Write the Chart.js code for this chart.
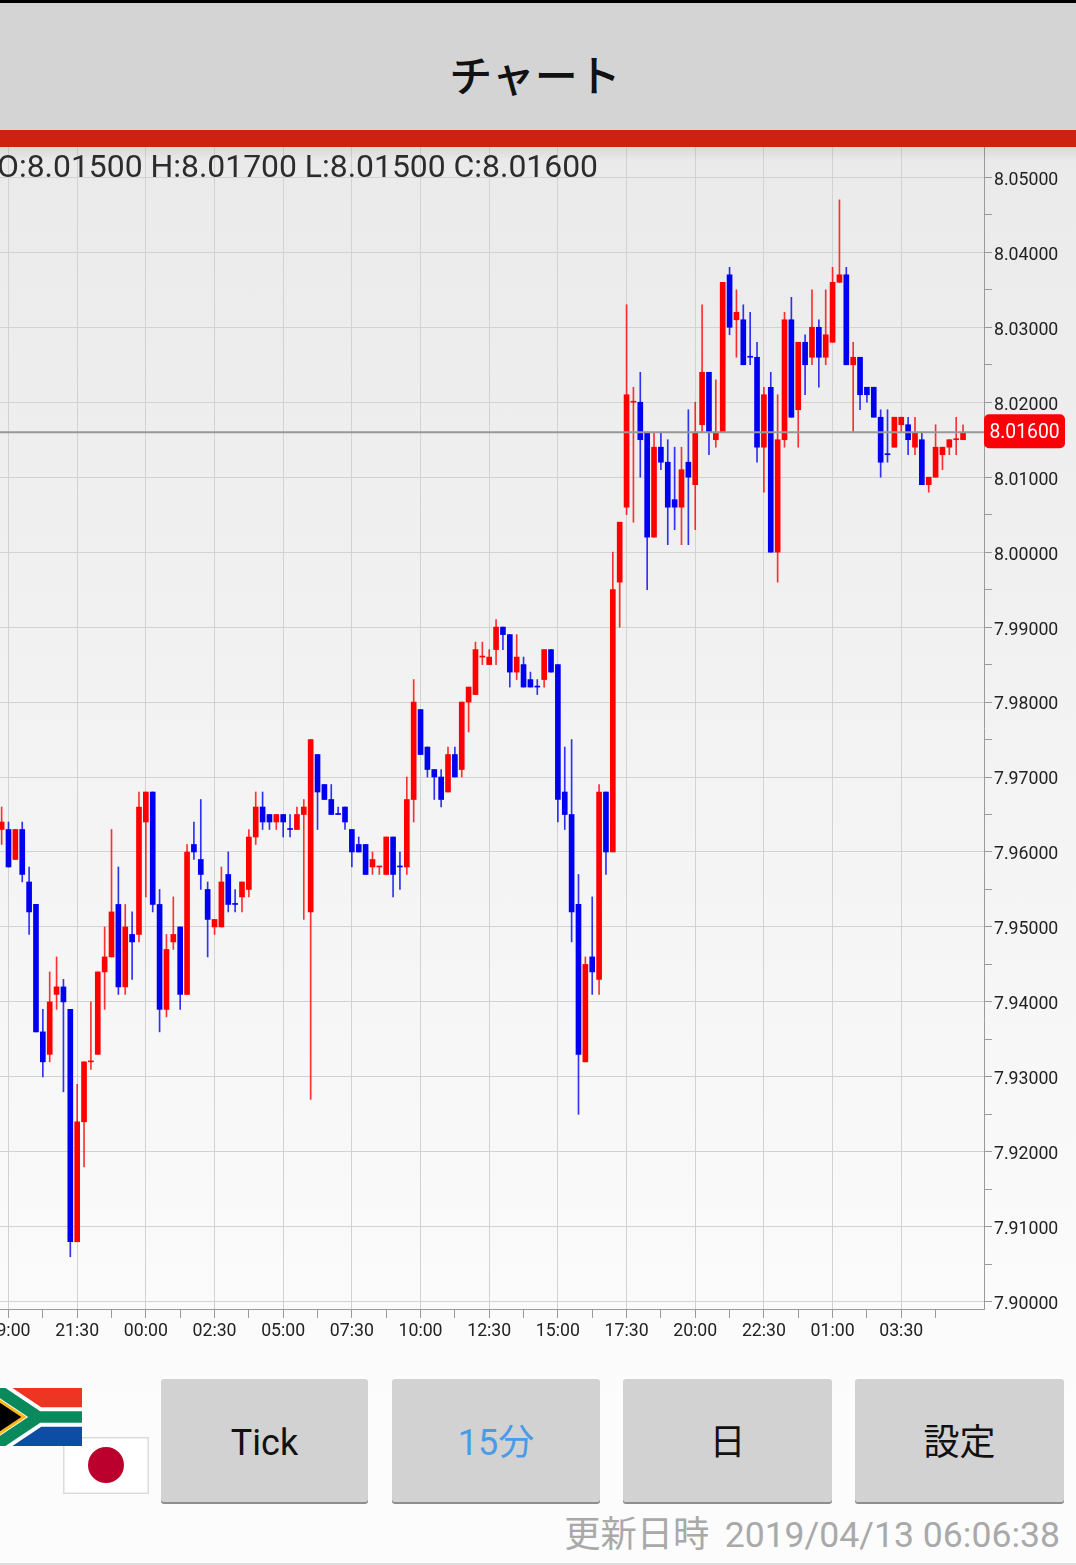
<!DOCTYPE html>
<html lang="ja"><head><meta charset="utf-8">
<style>
html,body{margin:0;padding:0}
body{width:1076px;height:1565px;position:relative;overflow:hidden;font-family:Roboto,"Noto Sans CJK JP",sans-serif;
background:linear-gradient(#eaeaea 147px,#fcfcfc 1400px)}
#status{position:absolute;left:0;top:0;width:1076px;height:3px;background:#000}
#head{position:absolute;left:-3px;top:3px;width:1076px;height:127px;text-align:center;line-height:141px;font-size:43px;font-weight:500;color:#111;font-family:"Noto Sans CJK JP",sans-serif}
#headbg{position:absolute;left:0;top:3px;width:1076px;height:127px;background:#d4d4d4}
#band{position:absolute;left:0;top:130px;width:1076px;height:17px;background:#cf2110}
#shade{position:absolute;left:0;top:147px;width:1076px;height:14px;background:linear-gradient(rgba(0,0,0,.07),rgba(0,0,0,0))}
#wrap{position:absolute;left:0;top:147px;width:1076px;height:1198px}
#ohlc{position:absolute;left:-3px;top:146px;font-size:31.9px;line-height:40px;color:#2c2c2c;white-space:nowrap}
.btn{position:absolute;top:1379px;height:123px;background:#d2d2d2;border-radius:3px;box-shadow:0 2px 0 #8e8e8e;text-align:center;line-height:128px;font-size:36px;color:#111;font-family:Roboto,"Noto Sans CJK JP",sans-serif}
#stamp{position:absolute;right:16px;top:1514px;font-size:35.6px;line-height:42px;color:#a9a9a9;white-space:nowrap;font-family:Roboto,"Noto Sans CJK JP",sans-serif}
#stamp span{font-size:36.3px;margin-right:6.5px}
#foot{position:absolute;left:0;top:1563px;width:1076px;height:2px;background:#dcdcdc}
svg{position:absolute}
</style></head><body>
<div id="status"></div>
<div id="headbg"></div>
<div id="head">チャート</div>
<div id="wrap"><canvas id="c" width="1076" height="1198"></canvas></div>
<div id="band"></div><div id="shade"></div>
<div id="ohlc">O:8.01500 H:8.01700 L:8.01500 C:8.01600</div>
<svg style="left:63px;top:1437px" width="86" height="57"><rect x=".5" y=".5" width="85" height="56" fill="#fff" stroke="#dcdcdc" stroke-width="2"/><circle cx="43" cy="28" r="18" fill="#bc002d"/></svg>
<svg style="left:-5px;top:1388px" width="87" height="58" viewBox="0 0 90 60" preserveAspectRatio="none">
<rect width="90" height="30" fill="#ee3524"/><rect y="30" width="90" height="30" fill="#0d4da5"/>
<path d="M0 0L45 30H90M45 30L0 60" fill="none" stroke="#fff" stroke-width="20"/>
<path d="M0 0L45 30H90M45 30L0 60" fill="none" stroke="#0a8a5c" stroke-width="12"/>
<path d="M0 10L30 30L0 50Z" fill="#000" stroke="#ffb81c" stroke-width="3"/></svg>
<div class="btn" style="left:161px;width:207px">Tick</div>
<div class="btn" style="left:392px;width:208px;color:#4a9be6">15分</div>
<div class="btn" style="left:623px;width:209px">日</div>
<div class="btn" style="left:855px;width:209px">設定</div>
<div id="stamp"><span>更新日時</span> 2019/04/13 06:06:38</div>
<div id="foot"></div>
<script src="https://cdn.jsdelivr.net/npm/chart.js@4/dist/chart.umd.min.js"></script>
<script>
const opens=[7.963,7.963,7.959,7.963,7.956,7.953,7.936,7.933,7.941,7.942,7.939,7.908,7.924,7.932,7.933,7.944,7.946,7.953,7.942,7.949,7.949,7.964,7.968,7.953,7.939,7.948,7.950,7.941,7.961,7.959,7.955,7.950,7.950,7.957,7.953,7.954,7.955,7.962,7.966,7.965,7.964,7.965,7.963,7.963,7.965,7.952,7.973,7.969,7.967,7.965,7.966,7.963,7.961,7.961,7.958,7.958,7.957,7.962,7.958,7.958,7.967,7.979,7.974,7.971,7.970,7.968,7.973,7.971,7.980,7.981,7.986,7.985,7.987,7.990,7.989,7.984,7.985,7.983,7.982,7.983,7.987,7.985,7.968,7.965,7.953,7.932,7.946,7.943,7.968,7.960,7.996,8.006,8.020,8.020,8.016,8.002,8.014,8.012,8.007,8.006,8.012,8.009,8.017,8.024,8.015,8.016,8.037,8.031,8.031,8.026,8.026,8.014,8.022,8.000,8.015,8.031,8.019,8.028,8.026,8.030,8.026,8.028,8.036,8.037,8.025,8.026,8.022,8.022,8.018,8.013,8.014,8.017,8.017,8.014,8.015,8.009,8.010,8.013,8.014,8.015,8.015];
const closes=[7.964,7.958,7.963,7.957,7.952,7.936,7.932,7.940,7.942,7.940,7.908,7.924,7.932,7.932,7.944,7.946,7.952,7.942,7.950,7.948,7.966,7.968,7.953,7.939,7.947,7.949,7.941,7.960,7.960,7.957,7.951,7.951,7.956,7.953,7.953,7.956,7.962,7.966,7.964,7.964,7.965,7.964,7.963,7.965,7.966,7.975,7.968,7.967,7.965,7.965,7.964,7.960,7.960,7.957,7.959,7.958,7.962,7.957,7.958,7.967,7.980,7.973,7.971,7.970,7.967,7.973,7.970,7.980,7.982,7.987,7.986,7.986,7.990,7.989,7.984,7.986,7.982,7.982,7.982,7.987,7.984,7.967,7.965,7.952,7.933,7.945,7.944,7.968,7.960,7.995,8.004,8.021,8.020,8.015,8.002,8.014,8.012,8.006,8.006,8.011,8.010,8.016,8.024,8.016,8.016,8.036,8.030,8.032,8.025,8.026,8.014,8.021,8.000,8.015,8.031,8.018,8.028,8.025,8.030,8.026,8.029,8.036,8.037,8.025,8.026,8.021,8.021,8.018,8.012,8.013,8.018,8.018,8.015,8.016,8.009,8.010,8.014,8.014,8.015,8.015,8.016];
const highs=[7.966,7.964,7.963,7.964,7.958,7.953,7.939,7.944,7.946,7.943,7.939,7.929,7.932,7.940,7.944,7.950,7.963,7.958,7.953,7.952,7.968,7.968,7.968,7.955,7.949,7.954,7.950,7.961,7.964,7.967,7.956,7.951,7.958,7.960,7.955,7.956,7.963,7.968,7.968,7.965,7.965,7.965,7.965,7.966,7.967,7.975,7.973,7.969,7.969,7.966,7.966,7.963,7.962,7.961,7.960,7.958,7.962,7.962,7.960,7.970,7.983,7.979,7.974,7.971,7.971,7.974,7.974,7.980,7.982,7.988,7.988,7.987,7.991,7.990,7.989,7.989,7.986,7.984,7.983,7.987,7.987,7.985,7.974,7.975,7.957,7.946,7.954,7.969,7.968,8.000,8.004,8.033,8.022,8.024,8.016,8.016,8.016,8.015,8.014,8.014,8.019,8.020,8.033,8.024,8.023,8.036,8.038,8.035,8.033,8.032,8.028,8.022,8.024,8.021,8.032,8.034,8.028,8.029,8.035,8.031,8.035,8.038,8.047,8.038,8.028,8.026,8.022,8.022,8.019,8.019,8.018,8.018,8.018,8.018,8.016,8.010,8.017,8.014,8.015,8.018,8.017];
const lows=[7.961,7.958,7.959,7.956,7.949,7.936,7.930,7.932,7.939,7.928,7.906,7.908,7.918,7.931,7.933,7.939,7.946,7.941,7.941,7.943,7.948,7.954,7.952,7.936,7.938,7.947,7.939,7.941,7.959,7.955,7.946,7.949,7.950,7.952,7.952,7.952,7.954,7.961,7.963,7.963,7.963,7.962,7.962,7.963,7.951,7.927,7.963,7.967,7.965,7.965,7.963,7.958,7.960,7.957,7.957,7.957,7.957,7.954,7.955,7.957,7.964,7.973,7.970,7.967,7.966,7.968,7.970,7.970,7.976,7.981,7.985,7.985,7.985,7.987,7.982,7.983,7.982,7.982,7.981,7.982,7.984,7.964,7.963,7.948,7.925,7.932,7.941,7.941,7.957,7.960,7.990,8.005,8.004,8.010,7.995,8.002,8.011,8.001,8.003,8.001,8.001,8.003,8.016,8.013,8.014,8.016,8.029,8.026,8.025,8.025,8.012,8.008,8.000,7.996,8.014,8.018,8.014,8.021,8.025,8.022,8.025,8.028,8.036,8.025,8.016,8.019,8.020,8.018,8.010,8.012,8.014,8.016,8.013,8.013,8.009,8.008,8.010,8.011,8.013,8.013,8.015];
const bearishDoji=[34,42,49,58,78,109,129];
const lastPrice=8.016;
const xTickPositions=[1,6,11,16,21,26,31,36,41,46,51,56,61,66,71,76,81,86,91,96,101,106,111,116,121,126,131,136];
const xTickLabels=['19:00','','21:30','','00:00','','02:30','','05:00','','07:30','','10:00','','12:30','','15:00','','17:30','','20:00','','22:30','','01:00','','03:30',''];
const yTickValues=[7.9,7.905,7.91,7.915,7.92,7.925,7.93,7.935,7.94,7.945,7.95,7.955,7.96,7.965,7.97,7.975,7.98,7.985,7.99,7.995,8,8.005,8.01,8.015,8.02,8.025,8.03,8.035,8.04,8.045,8.05];

const isBlue=opens.map((o,k)=>closes[k]<o||(closes[k]===o&&bearishDoji.includes(k)));
const bodyColours=isBlue.map(b=>b?'#0000f0':'#ff0000');
const wickColours=isBlue.map(b=>b?'rgba(0,0,240,.8)':'rgba(255,0,0,.8)');
const xMin=-0.238,xMax=143.05;
const FONT='Roboto';
const major=v=>Math.round(v*1000)%10===0;

const priceTag={id:'priceTag',afterDraw(ch){
  const y=ch.scales.y.getPixelForValue(lastPrice),g=ch.ctx;
  g.save();g.fillStyle='#fb0006';g.beginPath();g.roundRect(984,y-18,81,34,5);g.fill();
  g.fillStyle='#fff';g.font='19.3px '+FONT;g.textAlign='center';g.textBaseline='middle';
  g.fillText(lastPrice.toFixed(5),1024.5,y+1);g.restore();
}};

new Chart(document.getElementById('c'),{
  type:'bar',
  data:{datasets:[
    {type:'line',data:[{x:xMin,y:lastPrice},{x:xMax,y:lastPrice}],borderColor:'#979797',borderWidth:2,pointRadius:0,order:0},
    {data:opens.map((o,k)=>({x:k,y:[o,closes[k]]})),backgroundColor:bodyColours,barThickness:5,minBarLength:1,grouped:false,order:1},
    {data:lows.map((l,k)=>({x:k,y:[l,highs[k]]})),backgroundColor:wickColours,barThickness:1,grouped:false,order:2}
  ]},
  plugins:[priceTag],
  options:{
    responsive:false,animation:false,
    layout:{padding:0},
    plugins:{legend:{display:false},tooltip:{enabled:false},title:{display:false}},
    scales:{
      x:{type:'linear',min:xMin,max:xMax,offset:false,
        afterBuildTicks:s=>{s.ticks=xTickPositions.map(v=>({value:v}))},
        afterFit:s=>{s.height=36;s.paddingLeft=0;s.paddingRight=0},
        border:{display:true,color:'#9a9a9a',width:1},
        grid:{offset:false,color:c=>(c.tick&&xTickLabels[xTickPositions.indexOf(c.tick.value)])?'#d2d2d2':'rgba(0,0,0,0)',tickColor:'#9a9a9a',tickLength:9,lineWidth:1},
        ticks:{autoSkip:false,maxRotation:0,minRotation:0,padding:3,color:'#222',font:{family:FONT,size:17.7},
          callback:v=>xTickLabels[xTickPositions.indexOf(v)]||''}
      },
      y:{type:'linear',position:'right',min:7.89903,max:8.05405,beginAtZero:false,
        afterBuildTicks:s=>{s.ticks=yTickValues.map(v=>({value:v}))},
        afterFit:s=>{s.width=92;s.paddingTop=0;s.paddingBottom=0},
        border:{display:true,color:'#9a9a9a',width:1},
        grid:{color:c=>(c.tick&&major(c.tick.value))?'#d2d2d2':'rgba(0,0,0,0)',tickColor:'#9a9a9a',tickLength:8,lineWidth:1},
        ticks:{padding:2,labelOffset:3,color:'#222',font:{family:FONT,size:17.7},align:'center',
          callback:v=>major(v)?v.toFixed(5):''}
      }
    }
  }
});
</script>
</body></html>
